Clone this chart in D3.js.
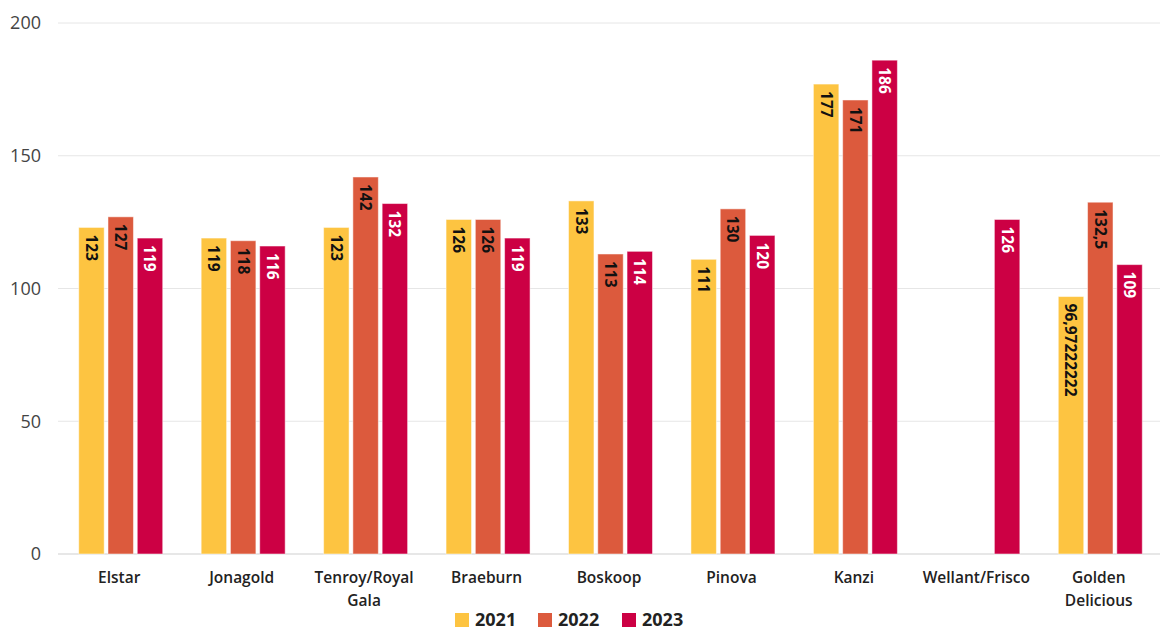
<!DOCTYPE html>
<html>
<head>
<meta charset="utf-8">
<script src="https://cdn.jsdelivr.net/npm/d3@7"></script>
<style>
  body { margin: 0; background: #fff; }
  svg { display: block; }
</style>
</head>
<body>
<div id="chart"></div>
<script>
// Data
const categories = ["Elstar", "Jonagold", "Tenroy/Royal Gala", "Braeburn", "Boskoop", "Pinova", "Kanzi", "Wellant/Frisco", "Golden Delicious"];
const categoryLines = [["Elstar"], ["Jonagold"], ["Tenroy/Royal", "Gala"], ["Braeburn"], ["Boskoop"], ["Pinova"], ["Kanzi"], ["Wellant/Frisco"], ["Golden", "Delicious"]];
const years = ["2021", "2022", "2023"];
const values2021 = [123, 119, 123, 126, 133, 111, 177, null, 96.97222222];
const values2022 = [127, 118, 142, 126, 113, 130, 171, null, 132.5];
const values2023 = [119, 116, 132, 119, 114, 120, 186, 126, 109];
const yTicks = [0, 50, 100, 150, 200];

const seriesValues = [values2021, values2022, values2023];
const colors = ["#fdc441", "#dc5a3d", "#cc0044"];
const labelColors = ["#111", "#111", "#fff"];

const W = 1160, H = 630;
const margin = { top: 23, right: 0, bottom: 76, left: 58 };
const innerW = W - margin.left - margin.right;
const innerH = H - margin.top - margin.bottom;
const GROUP_W = 84;

const svg = d3.select("#chart").append("svg")
    .attr("width", W)
    .attr("height", H);

const g = svg.append("g")
    .attr("transform", `translate(${margin.left},${margin.top})`);

const x0 = d3.scaleBand()
    .domain(categories)
    .range([0, innerW]);

const x1 = d3.scaleBand()
    .domain(years)
    .range([0, GROUP_W])
    .paddingInner(0.13);

const y = d3.scaleLinear()
    .domain([0, 200])
    .range([innerH, 0]);

// Gridlines
g.selectAll(".grid")
    .data(yTicks)
    .enter()
    .append("line")
    .attr("x1", 0)
    .attr("x2", innerW)
    .attr("y1", d => y(d))
    .attr("y2", d => y(d))
    .attr("stroke", d => d === 0 ? "#cfcfcf" : "#e6e6e6")
    .attr("stroke-width", 1);

// Y tick labels
g.selectAll(".ytick")
    .data(yTicks)
    .enter()
    .append("text")
    .attr("x", -17)
    .attr("y", d => y(d))
    .attr("dy", "0.35em")
    .attr("text-anchor", "end")
    .attr("font-family", "'Open Sans', sans-serif")
    .attr("font-size", 18)
    .attr("fill", "#444")
    .text(d => d);

// Bars
const rows = [];
categories.forEach((c, i) => {
    years.forEach((yr, s) => {
        const v = seriesValues[s][i];
        if (v != null) rows.push({ cat: c, year: yr, s: s, v: v });
    });
});

const offset = (x0.bandwidth() - GROUP_W) / 2 + 1.5;

const bars = g.selectAll(".bar")
    .data(rows)
    .enter()
    .append("g")
    .attr("transform", d => `translate(${x0(d.cat) + offset + x1(d.year)},0)`);

bars.append("rect")
    .attr("x", 0)
    .attr("y", d => y(d.v))
    .attr("width", x1.bandwidth())
    .attr("height", d => innerH - y(d.v))
    .attr("fill", d => colors[d.s])
    .attr("stroke", "#fff")
    .attr("stroke-opacity", 0.5)
    .attr("stroke-width", 1);

bars.append("text")
    .attr("transform", d => `translate(${x1.bandwidth() / 2},${y(d.v) + 7}) rotate(90)`)
    .attr("dy", "0.36em")
    .attr("text-anchor", "start")
    .attr("font-family", "'Open Sans', sans-serif")
    .attr("font-weight", "bold")
    .attr("font-size", 15.5)
    .attr("fill", d => labelColors[d.s])
    .text(d => String(d.v).replace(".", ","));

// X labels
const xl = g.selectAll(".xlabel")
    .data(categories)
    .enter()
    .append("text")
    .attr("x", d => x0(d) + x0.bandwidth() / 2)
    .attr("y", innerH + 29)
    .attr("text-anchor", "middle")
    .attr("font-family", "'Open Sans', sans-serif")
    .attr("font-weight", 600)
    .attr("font-size", 15.5)
    .attr("fill", "#222");

xl.selectAll("tspan")
    .data((d, i) => categoryLines[i])
    .enter()
    .append("tspan")
    .attr("x", function () { return d3.select(this.parentNode).attr("x"); })
    .attr("dy", (d, i) => i === 0 ? 0 : 23)
    .text(d => d);

// Legend
const legendX = [455, 538, 622];
const legend = svg.selectAll(".legend")
    .data(years)
    .enter()
    .append("g")
    .attr("transform", (d, i) => `translate(${legendX[i]},613)`);

legend.append("rect")
    .attr("width", 14)
    .attr("height", 14)
    .attr("fill", (d, i) => colors[i]);

legend.append("text")
    .attr("x", 20)
    .attr("y", 7)
    .attr("dy", "0.36em")
    .attr("font-family", "'Open Sans', sans-serif")
    .attr("font-weight", "bold")
    .attr("font-size", 18)
    .attr("fill", "#222")
    .text(d => d);
</script>
</body>
</html>
